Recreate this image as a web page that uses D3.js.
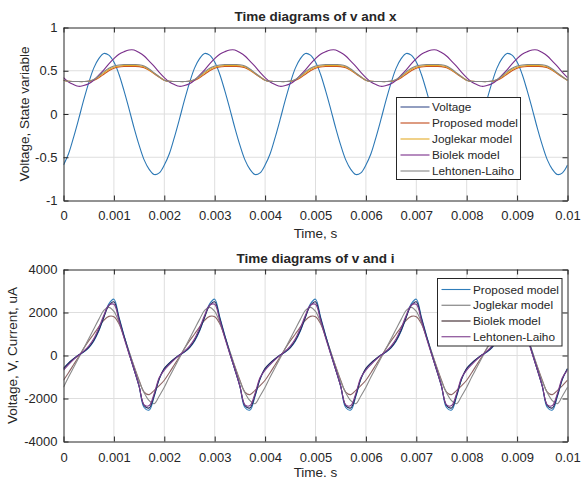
<!DOCTYPE html>
<meta charset="utf-8">
<head>
	<title>Time diagrams of v, x and i</title>
	<script src="https://cdn.jsdelivr.net/npm/d3@7"></script>
	<style>
		body { margin: 0; background: #fff; }
		text { font-family: "Liberation Sans", Arial, Helvetica, sans-serif; fill: #262626; }
	</style>
</head>
<body>
<script>

	const timeTicks = [0, 0.001, 0.002, 0.003, 0.004, 0.005, 0.006, 0.007, 0.008, 0.009, 0.01];
	const timeTickLabels = ['0', '0.001', '0.002', '0.003', '0.004', '0.005', '0.006', '0.007', '0.008', '0.009', '0.01'];
	const stateTicks = [-1, -0.5, 0, 0.5, 1];
	const stateTickLabels = ['-1', '-0.5', '0', '0.5', '1'];
	const currentTicks = [-4000, -2000, 0, 2000, 4000];
	const currentTickLabels = ['-4000', '-2000', '0', '2000', '4000'];

	const sampleStep = 0.0001;
	const time = d3.range(101).map(i => +(i * sampleStep).toFixed(4));

	// top panel: voltage and state variable x
	const voltage = [
		-0.59,-0.46,-0.27,-0.06,0.16,0.36,0.53,0.64,0.70,0.68,0.60,0.46,0.27,0.06,-0.16,-0.36,-0.53,-0.64,-0.70,-0.68,
		-0.59,-0.46,-0.27,-0.06,0.16,0.36,0.53,0.64,0.70,0.68,0.60,0.46,0.27,0.06,-0.16,-0.36,-0.53,-0.64,-0.70,-0.68,
		-0.59,-0.46,-0.27,-0.06,0.16,0.36,0.53,0.64,0.70,0.68,0.60,0.46,0.27,0.06,-0.16,-0.36,-0.53,-0.64,-0.70,-0.68,
		-0.59,-0.46,-0.27,-0.06,0.16,0.36,0.53,0.64,0.70,0.68,0.60,0.46,0.27,0.06,-0.16,-0.36,-0.53,-0.64,-0.70,-0.68,
		-0.59,-0.46,-0.27,-0.06,0.16,0.36,0.53,0.64,0.70,0.68,0.60,0.46,0.27,0.06,-0.16,-0.36,-0.53,-0.64,-0.70,-0.68,
		-0.59];
	const xProposed = [
		0.39,0.377,0.375,0.375,0.375,0.377,0.39,0.42,0.46,0.50,0.53,0.545,0.55,0.55,0.55,0.548,0.535,0.505,0.465,0.425,
		0.39,0.377,0.375,0.375,0.375,0.377,0.39,0.42,0.46,0.50,0.53,0.545,0.55,0.55,0.55,0.548,0.535,0.505,0.465,0.425,
		0.39,0.377,0.375,0.375,0.375,0.377,0.39,0.42,0.46,0.50,0.53,0.545,0.55,0.55,0.55,0.548,0.535,0.505,0.465,0.425,
		0.39,0.377,0.375,0.375,0.375,0.377,0.39,0.42,0.46,0.50,0.53,0.545,0.55,0.55,0.55,0.548,0.535,0.505,0.465,0.425,
		0.39,0.377,0.375,0.375,0.375,0.377,0.39,0.42,0.46,0.50,0.53,0.545,0.55,0.55,0.55,0.548,0.535,0.505,0.465,0.425,
		0.39];
	const xJoglekar = [
		0.39,0.377,0.375,0.375,0.375,0.378,0.395,0.43,0.475,0.515,0.54,0.555,0.56,0.56,0.56,0.558,0.545,0.51,0.47,0.43,
		0.39,0.377,0.375,0.375,0.375,0.378,0.395,0.43,0.475,0.515,0.54,0.555,0.56,0.56,0.56,0.558,0.545,0.51,0.47,0.43,
		0.39,0.377,0.375,0.375,0.375,0.378,0.395,0.43,0.475,0.515,0.54,0.555,0.56,0.56,0.56,0.558,0.545,0.51,0.47,0.43,
		0.39,0.377,0.375,0.375,0.375,0.378,0.395,0.43,0.475,0.515,0.54,0.555,0.56,0.56,0.56,0.558,0.545,0.51,0.47,0.43,
		0.39,0.377,0.375,0.375,0.375,0.378,0.395,0.43,0.475,0.515,0.54,0.555,0.56,0.56,0.56,0.558,0.545,0.51,0.47,0.43,
		0.39];
	const xBiolek = [
		0.42,0.37,0.34,0.32,0.33,0.35,0.39,0.45,0.51,0.58,0.64,0.69,0.72,0.74,0.74,0.71,0.67,0.61,0.55,0.48,
		0.42,0.37,0.34,0.32,0.33,0.35,0.39,0.45,0.51,0.58,0.64,0.69,0.72,0.74,0.74,0.71,0.67,0.61,0.55,0.48,
		0.42,0.37,0.34,0.32,0.33,0.35,0.39,0.45,0.51,0.58,0.64,0.69,0.72,0.74,0.74,0.71,0.67,0.61,0.55,0.48,
		0.42,0.37,0.34,0.32,0.33,0.35,0.39,0.45,0.51,0.58,0.64,0.69,0.72,0.74,0.74,0.71,0.67,0.61,0.55,0.48,
		0.42,0.37,0.34,0.32,0.33,0.35,0.39,0.45,0.51,0.58,0.64,0.69,0.72,0.74,0.74,0.71,0.67,0.61,0.55,0.48,
		0.42];
	const xLehtonen = [
		0.39,0.377,0.375,0.375,0.375,0.38,0.40,0.44,0.49,0.53,0.555,0.567,0.572,0.572,0.572,0.57,0.555,0.52,0.475,0.43,
		0.39,0.377,0.375,0.375,0.375,0.38,0.40,0.44,0.49,0.53,0.555,0.567,0.572,0.572,0.572,0.57,0.555,0.52,0.475,0.43,
		0.39,0.377,0.375,0.375,0.375,0.38,0.40,0.44,0.49,0.53,0.555,0.567,0.572,0.572,0.572,0.57,0.555,0.52,0.475,0.43,
		0.39,0.377,0.375,0.375,0.375,0.38,0.40,0.44,0.49,0.53,0.555,0.567,0.572,0.572,0.572,0.57,0.555,0.52,0.475,0.43,
		0.39,0.377,0.375,0.375,0.375,0.38,0.40,0.44,0.49,0.53,0.555,0.567,0.572,0.572,0.572,0.57,0.555,0.52,0.475,0.43,
		0.39];

	// bottom panel: current, uA
	const iProposed = [
		-620,-360,-160,20,160,360,670,1140,1790,2400,2620,1800,950,120,-650,-1440,-2420,-2540,-1900,-1100,
		-620,-360,-160,20,160,360,670,1140,1790,2400,2620,1800,950,120,-650,-1440,-2420,-2540,-1900,-1100,
		-620,-360,-160,20,160,360,670,1140,1790,2400,2620,1800,950,120,-650,-1440,-2420,-2540,-1900,-1100,
		-620,-360,-160,20,160,360,670,1140,1790,2400,2620,1800,950,120,-650,-1440,-2420,-2540,-1900,-1100,
		-620,-360,-160,20,160,360,670,1140,1790,2400,2620,1800,950,120,-650,-1440,-2420,-2540,-1900,-1100,
		-620];
	const iJoglekar = [
		-1480,-1000,-560,-120,320,780,1230,1680,2100,2240,2050,1550,900,200,-530,-1200,-1730,-2100,-2240,-1880,
		-1480,-1000,-560,-120,320,780,1230,1680,2100,2240,2050,1550,900,200,-530,-1200,-1730,-2100,-2240,-1880,
		-1480,-1000,-560,-120,320,780,1230,1680,2100,2240,2050,1550,900,200,-530,-1200,-1730,-2100,-2240,-1880,
		-1480,-1000,-560,-120,320,780,1230,1680,2100,2240,2050,1550,900,200,-530,-1200,-1730,-2100,-2240,-1880,
		-1480,-1000,-560,-120,320,780,1230,1680,2100,2240,2050,1550,900,200,-530,-1200,-1730,-2100,-2240,-1880,
		-1480];
	const iBiolek = [
		-600,-350,-150,20,170,380,700,1170,1780,2330,2500,1740,900,100,-650,-1420,-2330,-2440,-1850,-1080,
		-600,-350,-150,20,170,380,700,1170,1780,2330,2500,1740,900,100,-650,-1420,-2330,-2440,-1850,-1080,
		-600,-350,-150,20,170,380,700,1170,1780,2330,2500,1740,900,100,-650,-1420,-2330,-2440,-1850,-1080,
		-600,-350,-150,20,170,380,700,1170,1780,2330,2500,1740,900,100,-650,-1420,-2330,-2440,-1850,-1080,
		-600,-350,-150,20,170,380,700,1170,1780,2330,2500,1740,900,100,-650,-1420,-2330,-2440,-1850,-1080,
		-600];
	const iLehtonen = [
		-680,-420,-190,10,200,440,780,1280,1870,2340,2380,1640,820,80,-640,-1420,-2300,-2330,-1760,-1020,
		-680,-420,-190,10,200,440,780,1280,1870,2340,2380,1640,820,80,-640,-1420,-2300,-2330,-1760,-1020,
		-680,-420,-190,10,200,440,780,1280,1870,2340,2380,1640,820,80,-640,-1420,-2300,-2330,-1760,-1020,
		-680,-420,-190,10,200,440,780,1280,1870,2340,2380,1640,820,80,-640,-1420,-2300,-2330,-1760,-1020,
		-680,-420,-190,10,200,440,780,1280,1870,2340,2380,1640,820,80,-640,-1420,-2300,-2330,-1760,-1020,
		-680];
	// fifth trace in the lower plot, not named in its legend
	const iUnlabelled = [
		-1150,-800,-430,-60,330,680,1000,1330,1640,1820,1800,1480,870,180,-500,-1150,-1700,-1820,-1620,-1400,
		-1150,-800,-430,-60,330,680,1000,1330,1640,1820,1800,1480,870,180,-500,-1150,-1700,-1820,-1620,-1400,
		-1150,-800,-430,-60,330,680,1000,1330,1640,1820,1800,1480,870,180,-500,-1150,-1700,-1820,-1620,-1400,
		-1150,-800,-430,-60,330,680,1000,1330,1640,1820,1800,1480,870,180,-500,-1150,-1700,-1820,-1620,-1400,
		-1150,-800,-430,-60,330,680,1000,1330,1640,1820,1800,1480,870,180,-500,-1150,-1700,-1820,-1620,-1400,
		-1150];

	// ---- layout ----
	const width = 581, height = 481;
	const left = 63.5, right = 567.5;
	const axisColor = '#262626';
	const gridColor = '#dedede';

	const svg = d3.select('body')
		.append('svg')
		.attr('width', width)
		.attr('height', height);

	const x = d3.scaleLinear().domain([0, 0.01]).range([left, right]);

	const line = d3.line().curve(d3.curveCatmullRom.alpha(0.5));

	function drawPanel(p) {
		const y = d3.scaleLinear().domain(p.yDomain).range([p.bottom, p.top]);
		const g = svg.append('g').attr('class', p.id);

		g.append('clipPath').attr('id', 'clip-' + p.id)
			.append('rect')
			.attr('x', left).attr('y', p.top)
			.attr('width', right - left).attr('height', p.bottom - p.top);

		// grid
		g.append('g').selectAll('line')
			.data(timeTicks.slice(1, -1))
			.enter().append('line')
				.attr('x1', d => x(d)).attr('x2', d => x(d))
				.attr('y1', p.top).attr('y2', p.bottom)
				.attr('stroke', gridColor);
		g.append('g').selectAll('line')
			.data(p.yTicks.slice(1, -1))
			.enter().append('line')
				.attr('x1', left).attr('x2', right)
				.attr('y1', d => y(d)).attr('y2', d => y(d))
				.attr('stroke', gridColor);

		// traces
		g.append('g')
			.attr('clip-path', 'url(#clip-' + p.id + ')')
			.selectAll('path')
			.data(p.series)
			.enter().append('path')
				.attr('d', s => line(time.map((t, i) => [x(t), y(s.values[i])])))
				.attr('fill', 'none')
				.attr('stroke', s => s.color)
				.attr('stroke-width', 1.1);

		// box with inward ticks
		const fmtX = (d, i) => timeTickLabels[i];
		const fmtY = (d, i) => p.yLabels[i];
		const axes = [
			[d3.axisBottom(x).tickValues(timeTicks).tickFormat(fmtX).tickPadding(p.xPad), p.bottom, 0],
			[d3.axisTop(x).tickValues(timeTicks).tickFormat(''), p.top, 0],
			[d3.axisLeft(y).tickValues(p.yTicks).tickFormat(fmtY).tickPadding(6), 0, left],
			[d3.axisRight(y).tickValues(p.yTicks).tickFormat(''), 0, right]
		];
		axes.forEach(([ax, ty, tx]) => {
			const a = g.append('g')
				.attr('transform', `translate(${tx},${ty})`)
				.call(ax.tickSizeInner(-5).tickSizeOuter(0));
			a.attr('color', axisColor)
				.attr('font-size', 13)
				.attr('font-family', null);
			a.select('.domain').attr('stroke-width', 1);
		});

		// titles
		g.append('text')
			.attr('x', (left + right) / 2).attr('y', p.titleY)
			.attr('text-anchor', 'middle')
			.style('font-size', '13.5px')
			.style('font-weight', 'bold')
			.text(p.title);
		g.append('text')
			.attr('x', (left + right) / 2).attr('y', p.xLabelY)
			.attr('text-anchor', 'middle')
			.style('font-size', '13.5px')
			.text(p.xLabel);
		g.append('text')
			.attr('transform', `translate(${p.yLabelX},${(p.top + p.bottom) / 2}) rotate(-90)`)
			.attr('text-anchor', 'middle')
			.style('font-size', '13.5px')
			.text(p.yLabel);

		// legend
		const L = p.legend;
		const lg = g.append('g').attr('transform', `translate(${L.x},${L.y})`);
		lg.append('rect')
			.attr('width', L.w).attr('height', L.h)
			.attr('fill', '#fff')
			.attr('stroke', axisColor)
			.attr('stroke-width', 1);
		const rows = lg.selectAll('g.row')
			.data(L.entries)
			.enter().append('g')
				.attr('class', 'row')
				.attr('transform', (d, i) => `translate(0,${L.first + i * L.step})`);
		rows.append('line')
			.attr('x1', 4).attr('x2', 33)
			.attr('stroke', d => d.color)
			.attr('stroke-width', 1.1);
		rows.append('text')
			.attr('x', 35.5)
			.attr('dy', '0.35em')
			.style('font-size', '11.8px')
			.text(d => d.name);
	}

	drawPanel({
		id: 'vx',
		top: 27.5, bottom: 200.5,
		yDomain: [-1, 1], yTicks: stateTicks, yLabels: stateTickLabels,
		xPad: 10.5,
		title: 'Time diagrams of v and x', titleY: 20.7,
		xLabel: 'Time, s', xLabelY: 237.5,
		yLabel: 'Voltage, State variable', yLabelX: 29,
		series: [
			{ values: voltage, color: '#2c78b5' },
			{ values: xProposed, color: '#cc5320' },
			{ values: xJoglekar, color: '#e3ab28' },
			{ values: xBiolek, color: '#7a2f8b' },
			{ values: xLehtonen, color: '#858585' }
		],
		legend: {
			x: 396.5, y: 97.5, w: 124, h: 82, first: 9.5, step: 16,
			entries: [
				{ name: 'Voltage', color: '#3a4f8c' },
				{ name: 'Proposed model', color: '#c24a1a' },
				{ name: 'Joglekar model', color: '#e3ab28' },
				{ name: 'Biolek model', color: '#7a2f8b' },
				{ name: 'Lehtonen-Laiho', color: '#858585' }
			]
		}
	});

	drawPanel({
		id: 'vi',
		top: 269.5, bottom: 441.5,
		yDomain: [-4000, 4000], yTicks: currentTicks, yLabels: currentTickLabels,
		xPad: 11.5,
		title: 'Time diagrams of v and i', titleY: 262.7,
		xLabel: 'Time. s', xLabelY: 477,
		yLabel: 'Voltage, V, Current, uA', yLabelX: 17,
		series: [
			{ values: iUnlabelled, color: '#8e6464' },
			{ values: iJoglekar, color: '#8a8a8a' },
			{ values: iProposed, color: '#2f7dba' },
			{ values: iBiolek, color: '#222a58' },
			{ values: iLehtonen, color: '#7d3d8d' }
		],
		legend: {
			x: 437.5, y: 278.5, w: 124.5, h: 67.5, first: 11, step: 15.75,
			entries: [
				{ name: 'Proposed model', color: '#2f7dba' },
				{ name: 'Joglekar model', color: '#7a7a7a' },
				{ name: 'Biolek model', color: '#3a2328' },
				{ name: 'Lehtonen-Laiho', color: '#7d3d8d' }
			]
		}
	});

</script>
</body>
</html>
